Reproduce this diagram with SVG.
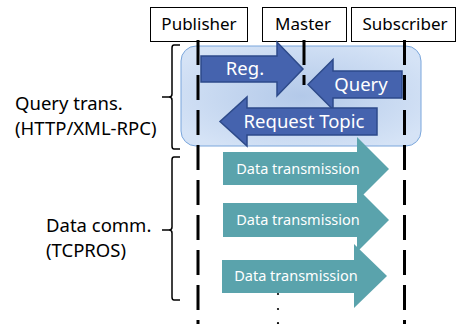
<svg xmlns="http://www.w3.org/2000/svg" width="457" height="324" viewBox="0 0 457 324">
<defs>
<radialGradient id="bg" cx="50%" cy="50%" r="60%">
<stop offset="0" stop-color="#b3c9e9"/>
<stop offset="1" stop-color="#d5e3f6"/>
</radialGradient>
<style>
text{font-family:"Noto Sans","Open Sans","Liberation Sans",sans-serif;}
.hdr{fill:#fff;stroke:#000;stroke-width:1}
.ht{font-size:17px;fill:#000;text-anchor:middle}
.life{stroke:#000;stroke-width:3;stroke-dasharray:25 10;fill:none}
.ba{fill:#4563ae;stroke:#2d4a8a;stroke-width:1.5}
.bt{fill:#fff;font-size:18.5px;text-anchor:middle}
.ta{fill:#5aa3ac}
.tt{fill:#fff;font-size:14.5px;text-anchor:middle}
.br{fill:none;stroke:#000;stroke-width:1.5}
.lt{font-size:18.5px;fill:#000}
</style>
</defs>
<rect x="181" y="46" width="240" height="100" rx="15" fill="url(#bg)" stroke="#7aa6dc" stroke-width="1"/>
<g id="publisher">
<rect class="hdr" x="150.5" y="7.5" width="97" height="34"/>
<text class="ht" x="199" y="30">Publisher</text>
</g>
<g id="master">
<rect class="hdr" x="262.5" y="7.5" width="84" height="34"/>
<text class="ht" x="303" y="30">Master</text>
</g>
<g id="subscriber">
<rect class="hdr" x="351.5" y="7.5" width="104" height="34"/>
<text class="ht" x="405" y="30">Subscriber</text>
</g>
<g id="connectors">
<line class="life" x1="198" y1="40" x2="198" y2="324"/>
<line class="life" x1="404.5" y1="40" x2="404.5" y2="324"/>
<polyline class="life" points="304,40 304,85"/>
<g id="reg">
<polygon class="ba" points="201,56 277,56 277,42 303,69 277,96 277,82 201,82"/>
<text class="bt" x="245" y="75">Reg.</text>
</g>
<g id="query">
<polygon class="ba" points="402,71 333,71 333,59.5 308,84.5 333,109.5 333,98 402,98"/>
<text class="bt" x="361" y="91">Query</text>
</g>
<g id="request">
<polygon class="ba" points="377,108 247,108 247,97 220,121.5 247,146 247,135 377,135"/>
<text class="bt" x="304" y="128">Request Topic</text>
</g>
<g id="data1">
<polygon class="ta" points="223,152 357,152 357,137 389,169 357,201 357,185 223,185"/>
<text class="tt" x="298" y="174">Data transmission</text>
</g>
<g id="data2">
<polygon class="ta" points="223,203 357,203 357,188 389,220 357,252 357,237 223,237"/>
<text class="tt" x="298" y="225">Data transmission</text>
</g>
<g id="data3">
<polygon class="ta" points="222,260 354,260 354,244 387,276 354,308 354,293 222,293"/>
<text class="tt" x="296" y="281">Data transmission</text>
</g>
<circle cx="278" cy="294" r="1.1" fill="#000"/>
<circle cx="278" cy="309" r="1.1" fill="#000"/>
<circle cx="278" cy="323" r="1.1" fill="#000"/>
</g>
<g id="query-trans">
<path class="br" d="M180,45 L174,45 Q172,45 172,48 L172,94 Q172,97 169,97 L162,97 L169,97 Q172,97 172,100 L172,146 Q172,149 174,149 L180,149"/>
<text class="lt" x="15" y="110">Query trans.</text>
<text class="lt" x="15" y="135">(HTTP/XML-RPC)</text>
</g>
<g id="data-comm">
<path class="br" d="M180,157 L174,157 Q172,157 172,160 L172,227 Q172,230 169,230 L162,230 L169,230 Q172,230 172,233 L172,297 Q172,300 174,300 L180,300"/>
<text class="lt" x="46" y="232">Data comm.</text>
<text class="lt" x="46" y="257">(TCPROS)</text>
</g>
</svg>
